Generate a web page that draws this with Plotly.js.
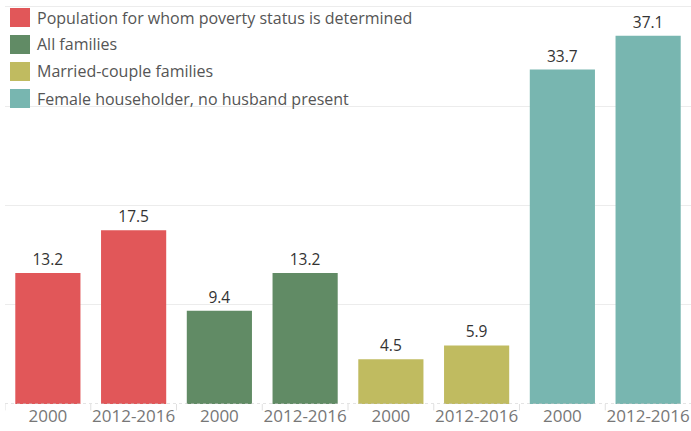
<!DOCTYPE html>
<html><head><meta charset="utf-8">
<script src="https://cdn.plot.ly/plotly-3.0.1.min.js"></script>
<style>body{margin:0;padding:0;background:#fff}#chart{width:691px;height:431px}</style>
</head><body><div id="chart"></div>
<script>
const seriesNames = ["Population for whom poverty status is determined","All families","Married-couple families","Female householder, no husband present"];
const periods = ["2000","2012-2016"];
const values2000 = [13.2, 9.4, 4.5, 33.7];
const values2016 = [17.5, 13.2, 5.9, 37.1];
const colors = ["#e15759","#618b65","#c0bb60","#78b6b0"];
const FONT = "'Open Sans', sans-serif";

const traces = seriesNames.map((name, i) => ({
  type: "bar",
  name: name,
  x: [2*i, 2*i+1],
  y: [values2000[i], values2016[i]],
  marker: {color: colors[i]},
  width: 0.76,
  text: [values2000[i].toFixed(1), values2016[i].toFixed(1)],
  textposition: "outside",
  textfont: {family: FONT, size: 15.5, color: "#333"},
  cliponaxis: false,
  hoverinfo: "skip",
  showlegend: false
}));

const tickvals = [], ticktext = [];
seriesNames.forEach((n, i) => { periods.forEach((p, j) => { tickvals.push(2*i+j); ticktext.push(p); }); });

const shapes = [
  {type:"line", xref:"paper", yref:"y", x0:0, x1:1, y0:0, y1:0, line:{color:"#c8c8c8", width:1, dash:"dot"}}
];
for (let k = 0; k < tickvals.length; k++) {
  shapes.push({type:"line", xref:"x", yref:"paper", x0:k-0.5, x1:k-0.5, y0:0, y1:-0.016, line:{color:"#e0e0e0", width:1}});
}
const annotations = [];
seriesNames.forEach((n, i) => {
  shapes.push({type:"rect", xref:"paper", yref:"paper", x0:5/686, x1:25/686, y0:1-(5+27*i)/401, y1:1-(24+27*i)/401, fillcolor:colors[i], line:{width:0}});
  annotations.push({xref:"paper", yref:"paper", x:30/686, y:1-(14.5+27*i)/401, xanchor:"left", yanchor:"middle", text:n, showarrow:false, font:{family:FONT, size:16, color:"#555"}});
});

const layout = {
  width: 691, height: 431,
  margin: {l:5, r:0, t:3, b:27},
  paper_bgcolor: "#fff", plot_bgcolor: "#fff",
  showlegend: false,
  xaxis: {range:[-0.5, 7.5], tickvals: tickvals, ticktext: ticktext, showgrid:false, zeroline:false, showline:false, ticks:"",
          tickfont:{family:FONT, size:17, color:"#777"}, fixedrange:true},
  yaxis: {range:[0, 40.4], tickvals:[10,20,30,40], showticklabels:false, showgrid:true, gridcolor:"#ececec", gridwidth:1, zeroline:false, showline:false, fixedrange:true},
  shapes: shapes,
  annotations: annotations,
  font: {family: FONT}
};
Plotly.newPlot("chart", traces, layout, {displayModeBar:false, staticPlot:true});
</script></body></html>
